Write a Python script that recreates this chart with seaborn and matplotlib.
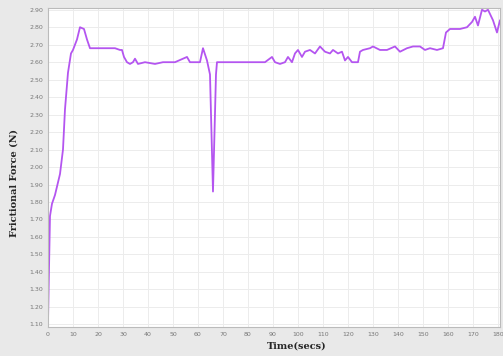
import matplotlib
matplotlib.use('Agg')
import matplotlib.pyplot as plt
import seaborn as sns
import numpy as np
import pandas as pd

# time (secs) and frictional force (N)
time_s = [0, 0.8, 1.6, 2.8, 4.8, 6.0, 6.8, 8.0, 9.2, 10.0, 11.6, 12.8, 14.4, 15.6,
          16.8, 18.8, 22.8, 26.8, 28.8, 29.6, 30.4, 31.6, 32.8, 34.0, 34.8, 36.0,
          38.8, 42.8, 46.0, 50.8, 55.6, 56.8, 60.8, 62.0, 63.6, 64.8, 66.0, 67.2,
          67.6, 72.8, 78.0, 84.8, 86.8, 89.6, 90.8, 92.8, 94.8, 96.0, 97.6, 98.8,
          100.0, 101.6, 102.8, 104.8, 106.8, 108.8, 110.8, 112.8, 114.0, 116.0,
          117.6, 118.8, 120.0, 121.6, 122.8, 124.0, 124.8, 126.0, 128.8, 130.0,
          132.8, 135.6, 138.8, 140.8, 143.6, 146.0, 148.8, 150.8, 152.8, 155.6,
          158.0, 159.2, 160.8, 164.8, 167.6, 169.6, 170.8, 172.0, 173.6, 174.8,
          176.0, 178.0, 179.6, 180.8]
force = [1.11, 1.72, 1.79, 1.84, 1.96, 2.10, 2.33, 2.54, 2.65, 2.67, 2.73, 2.80, 2.79, 2.73,
         2.68, 2.68, 2.68, 2.68, 2.67, 2.67, 2.63, 2.60, 2.59, 2.60, 2.62, 2.59,
         2.60, 2.59, 2.60, 2.60, 2.63, 2.60, 2.60, 2.68, 2.61, 2.53, 1.86, 2.53,
         2.60, 2.60, 2.60, 2.60, 2.60, 2.63, 2.60, 2.59, 2.60, 2.63, 2.60, 2.65,
         2.67, 2.63, 2.66, 2.67, 2.65, 2.69, 2.66, 2.65, 2.67, 2.65,
         2.66, 2.61, 2.63, 2.60, 2.60, 2.60, 2.66, 2.67, 2.68, 2.69,
         2.67, 2.67, 2.69, 2.66, 2.68, 2.69, 2.69, 2.67, 2.68, 2.67,
         2.68, 2.77, 2.79, 2.79, 2.80, 2.83, 2.86, 2.81, 2.90, 2.89,
         2.90, 2.84, 2.77, 2.84]

x_ticks = list(range(0, 190, 10))
y_ticks = [round(1.1 + 0.1 * i, 1) for i in range(19)]

df = pd.DataFrame({'Time': time_s, 'Force': force})

sns.set_style('whitegrid')
fig = plt.figure(figsize=(5.03, 3.56), dpi=100, facecolor='#e9e9e9')
ax = fig.add_axes([0.0954, 0.0815, 0.8986, 0.896])
ax.set_facecolor('white')

sns.lineplot(data=df, x='Time', y='Force', ax=ax, color='#b455f0', linewidth=1.3)

ax.set_xlim(0, 180.8)
ax.set_ylim(1.085, 2.91)
ax.set_xticks(x_ticks)
ax.set_yticks(y_ticks)
ax.set_xticklabels([str(t) for t in x_ticks], fontsize=4.5, color='#777777')
ax.set_yticklabels([f'{v:.2f}' for v in y_ticks], fontsize=4.5, color='#777777')
ax.tick_params(axis='both', length=2, color='#999999', pad=1.5)
ax.grid(True, color='#ececec', linewidth=0.7)
for s in ax.spines.values():
    s.set_color('#bbbbbb')
    s.set_linewidth(0.8)

ax.set_xlabel('Time(secs)', fontsize=7, fontweight='bold', family='DejaVu Serif',
              labelpad=1)
ax.xaxis.set_label_coords(0.55, -0.045)
ax.set_ylabel('Frictional Force (N)', fontsize=7, fontweight='bold', family='DejaVu Serif',
              labelpad=2)
ax.yaxis.set_label_coords(-0.065, 0.45)

fig.savefig('out.png', dpi=100, facecolor=fig.get_facecolor())
